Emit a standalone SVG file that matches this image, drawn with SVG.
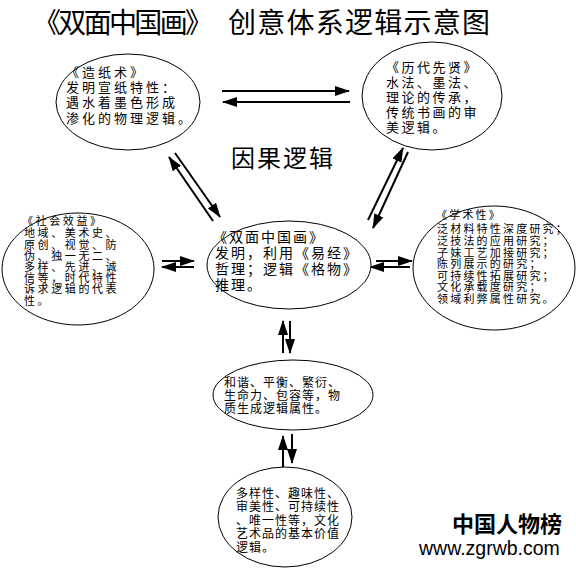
<svg xmlns="http://www.w3.org/2000/svg" width="576" height="569" viewBox="0 0 576 569">
<style>
text{font-family:"Liberation Sans","Noto Sans CJK SC",sans-serif;fill:#000}
.title{font-size:28px;font-family:"Noto Sans CJK SC",sans-serif}
.cause{font-size:24px;letter-spacing:2px;font-family:"Noto Sans CJK SC",sans-serif}
.e{fill:#fff;stroke:#000;stroke-width:1}
.a{stroke:#000;stroke-width:2;fill:none;marker-end:url(#ah)}
.s13{font-size:13px;letter-spacing:3px}
.s13b{font-size:13px;letter-spacing:2.5px}
.s11{font-size:11px;letter-spacing:2.6px}
.s11c{font-size:11px;letter-spacing:2.2px}
.s12{font-size:12px;letter-spacing:1px}
.s15{font-size:14px;letter-spacing:2px}
.wm{font-size:22px;font-weight:bold}
.url{font-size:19.5px;font-family:"Liberation Sans",Arial,sans-serif}
</style>
<defs>
<marker id="ah" viewBox="0 0 15 10" refX="14" refY="5" markerWidth="15" markerHeight="10" markerUnits="userSpaceOnUse" orient="auto">
<path d="M0,0 L15,5 L0,10 Z" fill="#000"/>
</marker>
</defs>
<rect width="576" height="569" fill="#fff"/>
<g id="title">
<text class="title" x="33" y="33" textLength="180" lengthAdjust="spacing">《双面中国画》</text>
<text class="title" x="228" y="33" textLength="262" lengthAdjust="spacing">创意体系逻辑示意图</text>
</g>
<g id="connectors">
<line class="a" x1="222" y1="91" x2="349" y2="91"/>
<line class="a" x1="350" y1="102" x2="223" y2="102"/>
<line class="a" x1="213" y1="221" x2="169" y2="157"/>
<line class="a" x1="175" y1="153" x2="220" y2="217"/>
<line class="a" x1="368" y1="220" x2="403" y2="148"/>
<line class="a" x1="408" y1="152" x2="373" y2="228"/>
<line class="a" x1="162" y1="261" x2="194" y2="261"/>
<line class="a" x1="194" y1="267" x2="162" y2="267"/>
<line class="a" x1="376" y1="261" x2="412" y2="261"/>
<line class="a" x1="410" y1="267" x2="370" y2="267"/>
<line class="a" x1="283" y1="353" x2="283" y2="321"/>
<line class="a" x1="290" y1="321" x2="290" y2="353"/>
<line class="a" x1="283" y1="468" x2="283" y2="436"/>
<line class="a" x1="292" y1="434" x2="292" y2="463"/>
</g>
<g id="label-cause">
<text class="cause" x="231" y="167">因果逻辑</text>
</g>
<g id="node-zaozhi">
<ellipse class="e" cx="128" cy="102" rx="72" ry="48"/>
<text class="s13"><tspan x="66" y="77">《造纸术》</tspan><tspan x="66" y="92">发明宣纸特性：</tspan><tspan x="66" y="107">遇水着墨色形成</tspan><tspan x="66" y="123">渗化的物理逻辑。</tspan></text>
</g>
<g id="node-lidai">
<ellipse class="e" cx="432" cy="96" rx="70" ry="54"/>
<text class="s13b"><tspan x="386" y="72">《历代先贤》</tspan><tspan x="386" y="87">水法、墨法、</tspan><tspan x="386" y="102">理论的传承，</tspan><tspan x="386" y="117">传统书画的审</tspan><tspan x="386" y="132">美逻辑。</tspan></text>
</g>
<g id="node-shehui">
<ellipse class="e" cx="78" cy="269" rx="76" ry="56"/>
<text class="s11"><tspan x="22" y="225">《社会效益》</tspan><tspan x="24" y="237">地域、美术史、</tspan><tspan x="24" y="249">原创、视觉、防</tspan><tspan x="24" y="260">伪、独一无二、</tspan><tspan x="24" y="271">多样、先进、诚</tspan><tspan x="24" y="282">信等，时代特性</tspan><tspan x="24" y="293">诉求逻辑的代表</tspan><tspan x="24" y="305">性。</tspan></text>
</g>
<g id="node-center">
<ellipse class="e" cx="289" cy="265" rx="82" ry="44"/>
<text class="s15"><tspan x="213" y="242">《双面中国画》</tspan><tspan x="215" y="258">发明，利用《易经》</tspan><tspan x="215" y="274">哲理；逻辑《格物》</tspan><tspan x="215" y="290">推理。</tspan></text>
</g>
<g id="node-xueshu">
<ellipse class="e" cx="494" cy="268" rx="81" ry="62"/>
<text class="s11c"><tspan x="436" y="219">《学术性》</tspan><tspan x="437" y="233">泛材料特性深度研究；</tspan><tspan x="437" y="245">泛技法的应用研究；</tspan><tspan x="437" y="257">子妹工艺加接研究；</tspan><tspan x="437" y="268">陈列展示的研究；</tspan><tspan x="437" y="280">可持续性拓展研究；</tspan><tspan x="437" y="291">文化承载度研究；</tspan><tspan x="437" y="303">领域利弊属性研究。</tspan></text>
</g>
<g id="node-hexie">
<ellipse class="e" cx="293" cy="395" rx="80" ry="35"/>
<text class="s12"><tspan x="224" y="387">和谐、平衡、繁衍、</tspan><tspan x="224" y="400">生命力、包容等，物</tspan><tspan x="224" y="413">质生成逻辑属性。</tspan></text>
</g>
<g id="node-duoyang">
<ellipse class="e" cx="285" cy="517" rx="67" ry="50"/>
<text class="s12"><tspan x="236" y="498">多样性、趣味性、</tspan><tspan x="236" y="511">审美性、可持续性</tspan><tspan x="236" y="525">、唯一性等，文化</tspan><tspan x="236" y="538">艺术品的基本价值</tspan><tspan x="236" y="552">逻辑。</tspan></text>
</g>
<g id="watermark">
<text class="wm" x="452" y="532">中国人物榜</text>
<text class="url" x="419" y="555">www.zgrwb.com</text>
</g>
</svg>
